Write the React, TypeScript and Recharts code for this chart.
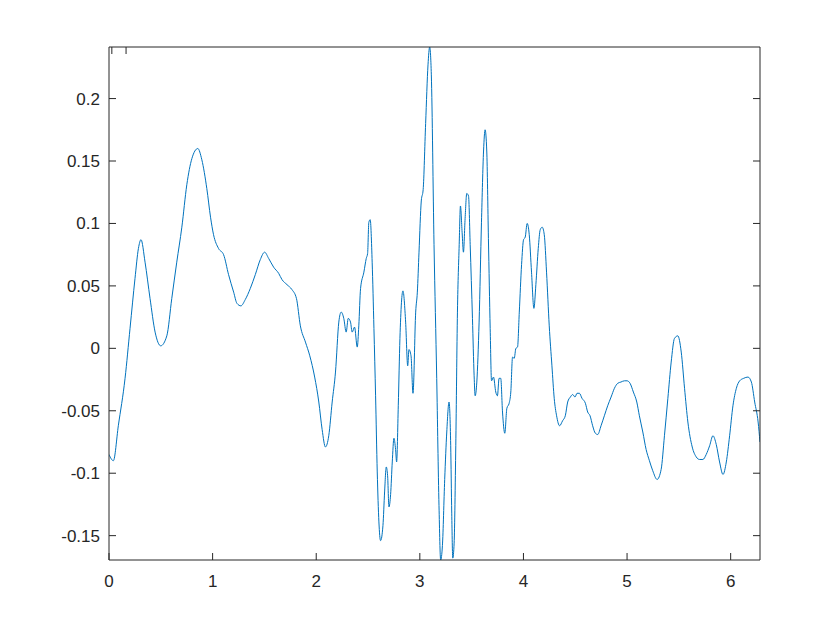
import { LineChart, Line, XAxis, YAxis } from 'recharts';

// sample positions (x) and signal values
const tValues = [
  0.0, 0.042, 0.09, 0.155, 0.203, 0.251, 0.284, 0.309, 0.348, 0.396, 0.445, 0.499,
  0.558, 0.606, 0.654, 0.703, 0.751, 0.8, 0.857, 0.896, 0.944, 0.98, 1.009, 1.057,
  1.106, 1.154, 1.203, 1.235, 1.273, 1.315, 1.364, 1.412, 1.46, 1.502, 1.541, 1.589,
  1.638, 1.67, 1.718, 1.766, 1.809, 1.847, 1.896, 1.938, 1.985, 2.025, 2.057, 2.089,
  2.121, 2.154, 2.186, 2.218, 2.241, 2.266, 2.289, 2.309, 2.331, 2.347, 2.37, 2.396,
  2.411, 2.428, 2.46, 2.483, 2.496, 2.508, 2.521, 2.54, 2.557, 2.573, 2.589, 2.605,
  2.621, 2.644, 2.66, 2.676, 2.689, 2.702, 2.718, 2.734, 2.75, 2.766, 2.776, 2.792,
  2.808, 2.837, 2.863, 2.883, 2.895, 2.915, 2.934, 2.96, 2.976, 2.992, 3.014, 3.032,
  3.056, 3.079, 3.095, 3.111, 3.137, 3.163, 3.185, 3.201, 3.218, 3.24, 3.26, 3.282,
  3.298, 3.308, 3.318, 3.331, 3.347, 3.363, 3.38, 3.392, 3.408, 3.421, 3.437, 3.453,
  3.47, 3.486, 3.508, 3.524, 3.534, 3.55, 3.572, 3.595, 3.615, 3.63, 3.646, 3.662,
  3.679, 3.692, 3.711, 3.733, 3.749, 3.765, 3.781, 3.798, 3.82, 3.84, 3.862, 3.878,
  3.895, 3.911, 3.927, 3.943, 3.96, 3.982, 4.001, 4.017, 4.036, 4.056, 4.078, 4.101,
  4.12, 4.143, 4.162, 4.181, 4.201, 4.223, 4.249, 4.275, 4.297, 4.32, 4.349, 4.378,
  4.404, 4.427, 4.453, 4.475, 4.498, 4.517, 4.54, 4.565, 4.598, 4.62, 4.643, 4.668,
  4.694, 4.717, 4.749, 4.781, 4.813, 4.846, 4.878, 4.91, 4.941, 4.975, 5.0, 5.029,
  5.061, 5.094, 5.119, 5.152, 5.184, 5.216, 5.248, 5.29, 5.329, 5.361, 5.394, 5.426,
  5.458, 5.49, 5.523, 5.555, 5.587, 5.629, 5.668, 5.7, 5.732, 5.764, 5.797, 5.829,
  5.861, 5.893, 5.926, 5.958, 5.99, 6.022, 6.055, 6.087, 6.126, 6.167, 6.2, 6.232,
  6.265, 6.283,
];

const signal = [
  -0.085, -0.09, -0.062, -0.024, 0.016, 0.056, 0.08, 0.087, 0.069, 0.04, 0.013, 0.002,
  0.01, 0.04, 0.069, 0.097, 0.131, 0.152, 0.16, 0.151, 0.128, 0.105, 0.091, 0.08,
  0.075, 0.059, 0.045, 0.036, 0.034, 0.039, 0.048, 0.059, 0.071, 0.077, 0.072, 0.065,
  0.06, 0.055, 0.051, 0.047, 0.04, 0.018, 0.005, -0.006, -0.023, -0.043, -0.065, -0.079,
  -0.07, -0.043, -0.019, 0.021, 0.029, 0.024, 0.013, 0.024, 0.021, 0.013, 0.017, 0.001,
  0.018, 0.048, 0.061, 0.072, 0.076, 0.101, 0.103, 0.069, 0.016, -0.038, -0.099, -0.139,
  -0.154, -0.142, -0.115, -0.095, -0.102, -0.127, -0.117, -0.091, -0.072, -0.081, -0.091, -0.046,
  0.008, 0.046, 0.021, -0.014, -0.001, -0.006, -0.036, 0.029, 0.045, 0.077, 0.118, 0.127,
  0.18, 0.227, 0.2413, 0.219, 0.083, -0.024, -0.126, -0.1695, -0.158, -0.105, -0.067, -0.043,
  -0.078, -0.132, -0.168, -0.156, -0.078, 0.029, 0.083, 0.114, 0.093, 0.077, 0.104, 0.124,
  0.122, 0.083, 0.024, -0.022, -0.038, -0.027, 0.021, 0.101, 0.158, 0.175, 0.158, 0.088,
  0.016, -0.026, -0.023, -0.035, -0.038, -0.024, -0.024, -0.051, -0.068, -0.048, -0.044, -0.035,
  -0.007, -0.008, 0.0, 0.001, 0.029, 0.067, 0.087, 0.089, 0.1, 0.091, 0.061, 0.032,
  0.051, 0.08, 0.095, 0.097, 0.091, 0.061, 0.018, -0.014, -0.04, -0.054, -0.062, -0.058,
  -0.054, -0.043, -0.039, -0.037, -0.039, -0.036, -0.036, -0.04, -0.044, -0.051, -0.054, -0.062,
  -0.068, -0.069, -0.062, -0.054, -0.046, -0.039, -0.032, -0.028, -0.027, -0.026, -0.026, -0.028,
  -0.035, -0.043, -0.054, -0.067, -0.081, -0.09, -0.098, -0.105, -0.097, -0.07, -0.04, -0.011,
  0.008, 0.01, -0.003, -0.032, -0.059, -0.079, -0.087, -0.089, -0.089, -0.085, -0.078, -0.07,
  -0.077, -0.091, -0.101, -0.091, -0.07, -0.046, -0.032, -0.026, -0.024, -0.023, -0.027, -0.043,
  -0.059, -0.075,
];

const xTicks = [0, 1, 2, 3, 4, 5, 6];
const yTicks = [-0.15, -0.1, -0.05, 0, 0.05, 0.1, 0.15, 0.2];
const xDomain: [number, number] = [0, 2 * Math.PI];
const yDomain: [number, number] = [-0.1695, 0.2413];

const axisColor = '#262626';
const fontFamily = '"Liberation Sans", Arial, sans-serif';
const TICK_LEN = 7;

// MATLAB-style ticks: short mark pointing into the plot, label outside
function BottomTick({ x, y, payload }: any) {
  return (
    <g>
      <line x1={x} y1={y} x2={x} y2={y - TICK_LEN} stroke={axisColor} />
      <text x={x} y={y + 27} textAnchor="middle" fontSize={17} fill={axisColor} fontFamily={fontFamily}>
        {String(payload.value)}
      </text>
    </g>
  );
}

function TopTick({ x, y }: any) {
  return <line x1={x} y1={y} x2={x} y2={y + TICK_LEN} stroke={axisColor} />;
}

function LeftTick({ x, y, payload }: any) {
  return (
    <g>
      <line x1={x} y1={y} x2={x + TICK_LEN} y2={y} stroke={axisColor} />
      <text x={x - 9} y={y + 6} textAnchor="end" fontSize={17} fill={axisColor} fontFamily={fontFamily}>
        {String(payload.value)}
      </text>
    </g>
  );
}

function RightTick({ x, y }: any) {
  return <line x1={x} y1={y} x2={x - TICK_LEN} y2={y} stroke={axisColor} />;
}

export default function App() {
  const data = tValues.map((t, i) => ({ t, y: signal[i] }));

  return (
    <div style={{ position: 'absolute', left: 0, top: 0, width: 840, height: 630, background: '#fff' }}>
      <LineChart width={840} height={630} data={data} margin={{ top: 46, right: 79, bottom: 0, left: 0 }}>
        <XAxis
          dataKey="t"
          type="number"
          domain={xDomain}
          ticks={xTicks}
          allowDataOverflow
          height={70}
          tickSize={0}
          tickMargin={0}
          tickLine={false}
          tick={<BottomTick />}
          stroke={axisColor}
        />
        <XAxis
          xAxisId="top"
          orientation="top"
          type="number"
          domain={xDomain}
          ticks={xTicks}
          allowDataOverflow
          height={1}
          tickSize={0}
          tickMargin={0}
          tickLine={false}
          tick={<TopTick />}
          stroke={axisColor}
        />
        <YAxis
          type="number"
          domain={yDomain}
          ticks={yTicks}
          allowDataOverflow
          width={109}
          tickSize={0}
          tickMargin={0}
          tickLine={false}
          tick={<LeftTick />}
          stroke={axisColor}
        />
        <YAxis
          yAxisId="right"
          orientation="right"
          type="number"
          domain={yDomain}
          ticks={yTicks}
          allowDataOverflow
          width={1}
          tickSize={0}
          tickMargin={0}
          tickLine={false}
          tick={<RightTick />}
          stroke={axisColor}
        />
        <Line
          type="monotone"
          dataKey="y"
          stroke="#0072BD"
          strokeWidth={1}
          dot={false}
          activeDot={false}
          isAnimationActive={false}
        />
      </LineChart>
    </div>
  );
}
